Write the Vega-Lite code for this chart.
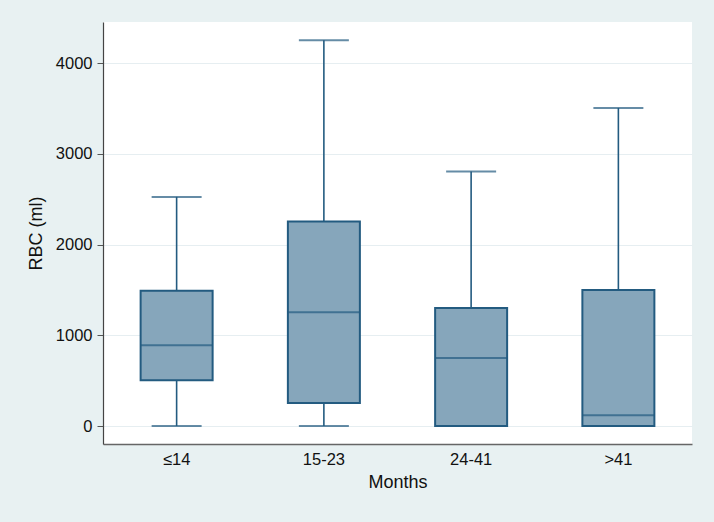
{
  "$schema": "https://vega.github.io/schema/vega-lite/v6.json",
  "width": 589,
  "height": 422,
  "autosize": {"type": "none"},
  "padding": {"left": 103, "top": 22, "right": 22, "bottom": 78},
  "background": "#e8f1f2",
  "config": {
    "view": {"fill": "white", "stroke": null},
    "font": "Liberation Sans",
    "axis": {"labelFont": "Liberation Sans", "titleFont": "Liberation Sans", "labelColor": "#111", "titleColor": "#111", "titleFontWeight": "normal"}
  },
  "data": {
    "values": [
      {"month": "≤14", "min": 0, "q1": 505, "median": 890, "q3": 1490, "max": 2525},
      {"month": "15-23", "min": 0, "q1": 253, "median": 1255, "q3": 2255, "max": 4250},
      {"month": "24-41", "min": 0, "q1": 0, "median": 750, "q3": 1300, "max": 2805},
      {"month": ">41", "min": 0, "q1": 0, "median": 120, "q3": 1500, "max": 3505}
    ]
  },
  "encoding": {
    "x": {
      "field": "month", "type": "nominal", "sort": null,
      "scale": {"paddingInner": 0, "paddingOuter": -0.02, "align": 0.75},
      "axis": {"title": "Months", "labelAngle": 0, "ticks": false, "domainColor": "#666", "domainWidth": 1.5, "labelFontSize": 16.5, "titleFontSize": 18, "labelPadding": 7, "titlePadding": 6, "grid": false}
    }
  },
  "layer": [
    {
      "mark": {"type": "rule", "color": "#235b80", "strokeWidth": 1.6},
      "encoding": {
        "y": {"field": "min", "type": "quantitative", "scale": {"domain": [-198, 4452], "nice": false, "zero": false},
          "axis": {"title": "RBC (ml)", "values": [0, 1000, 2000, 3000, 4000], "format": "d", "labelFontSize": 16.5, "titleFontSize": 18, "tickSize": 6, "tickColor": "#555", "domainColor": "#444", "domainWidth": 1.2, "gridColor": "#e6eef1", "gridWidth": 1, "labelPadding": 5, "titlePadding": 10}},
        "y2": {"field": "q1"}
      }
    },
    {
      "mark": {"type": "rule", "color": "#235b80", "strokeWidth": 1.6},
      "encoding": {"y": {"field": "q3", "type": "quantitative"}, "y2": {"field": "max"}}
    },
    {
      "mark": {"type": "tick", "color": "#235b80", "size": 50, "thickness": 2},
      "encoding": {"y": {"field": "min", "type": "quantitative"}}
    },
    {
      "mark": {"type": "tick", "color": "#235b80", "size": 50, "thickness": 2},
      "encoding": {"y": {"field": "max", "type": "quantitative"}}
    },
    {
      "mark": {"type": "bar", "size": 72, "fill": "#86a6bb", "stroke": "#235b80", "strokeWidth": 2},
      "encoding": {"y": {"field": "q1", "type": "quantitative"}, "y2": {"field": "q3"}}
    },
    {
      "mark": {"type": "tick", "color": "#235b80", "size": 72, "thickness": 2},
      "encoding": {"y": {"field": "median", "type": "quantitative"}}
    }
  ]
}
